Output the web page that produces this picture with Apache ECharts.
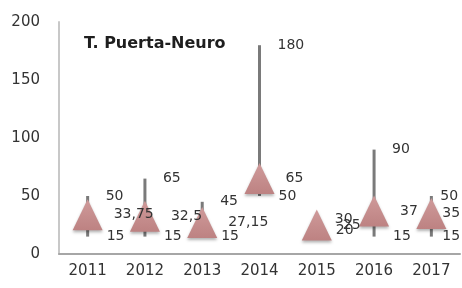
<!DOCTYPE html>
<html>
<head>
<meta charset="utf-8">
<script src="https://cdn.jsdelivr.net/npm/echarts@6/dist/echarts.min.js"></script>
<style>
  html, body { margin: 0; padding: 0; background: #fff; }
  #chart { width: 462px; height: 288px; }
</style>
</head>
<body>
<div id="chart"></div>
<script>
// datos por año: máximo, mínimo y valor medio (triángulo)
const years = ['2011', '2012', '2013', '2014', '2015', '2016', '2017']
const highs = [50, 65, 45, 180, 30, 90, 50]
const lows = [15, 15, 15, 50, 20, 15, 15]
const closes = [33.75, 32.5, 27.15, 65, 25, 37, 35]
const yTicks = [0, 50, 100, 150, 200]

const textColor = '#333'
const fontFamily = '"DejaVu Sans", sans-serif'

const fmt = (v) => String(v).replace('.', ',')

const chart = echarts.init(document.getElementById('chart'))

const labelStyle = (dist) => ({
  show: true,
  position: 'right',
  distance: dist,
  color: textColor,
  fontSize: 14,
  fontFamily: fontFamily,
  formatter: (p) => fmt(p.value[1])
})

// el último año tiene las etiquetas más pegadas (borde del gráfico)
const points = (vals, lastDist) => vals.map((v, i) => {
  const item = { value: [i, v] }
  if (i === vals.length - 1) item.label = { distance: lastDist }
  return item
})

const option = {
  animation: false,
  title: {
    text: 'T. Puerta-Neuro',
    left: 79,
    top: 31,
    textStyle: { fontSize: 16, fontWeight: 'bold', color: '#1e1e1e', fontFamily: fontFamily }
  },
  grid: { left: 59, right: 2, top: 22, bottom: 34 },
  xAxis: {
    type: 'category',
    data: years,
    axisLine: { lineStyle: { color: '#a6a6a6', width: 2 } },
    axisTick: { show: false },
    axisLabel: { color: textColor, fontSize: 15, fontFamily: fontFamily, margin: 10 }
  },
  yAxis: {
    type: 'value',
    min: yTicks[0],
    max: yTicks[yTicks.length - 1],
    interval: 50,
    axisLine: { show: true, lineStyle: { color: '#c8c8c8', width: 2 } },
    axisTick: { show: false },
    splitLine: { show: false },
    axisLabel: { color: textColor, fontSize: 15, fontFamily: fontFamily, margin: 19 }
  },
  series: [
    {
      // líneas máximo-mínimo
      type: 'custom',
      data: years.map((y, i) => [i, lows[i], highs[i]]),
      encode: { x: 0, y: [1, 2] },
      renderItem: (params, api) => {
        const lo = api.coord([api.value(0), api.value(1)])
        const hi = api.coord([api.value(0), api.value(2)])
        return {
          type: 'line',
          shape: { x1: lo[0], y1: lo[1], x2: hi[0], y2: hi[1] },
          style: { stroke: '#7a7a7a', lineWidth: 3 }
        }
      },
      z: 1
    },
    {
      type: 'scatter',
      data: points(highs, 9),
      symbolSize: 0,
      itemStyle: { opacity: 1 },
      label: labelStyle(18),
      z: 3
    },
    {
      type: 'scatter',
      data: points(lows, 11),
      symbolSize: 0,
      itemStyle: { opacity: 1 },
      label: labelStyle(19),
      z: 3
    },
    {
      type: 'scatter',
      data: points(closes, -4),
      symbol: 'triangle',
      symbolSize: [30, 31],
      itemStyle: {
        opacity: 1,
        color: new echarts.graphic.LinearGradient(0, 0, 0, 1, [
          { offset: 0, color: '#cf9a9a' },
          { offset: 1, color: '#bd8282' }
        ]),
        shadowBlur: 3,
        shadowOffsetY: 2,
        shadowColor: 'rgba(0,0,0,0.3)'
      },
      label: labelStyle(11),
      z: 2
    }
  ]
}

chart.setOption(option)
</script>
</body>
</html>
